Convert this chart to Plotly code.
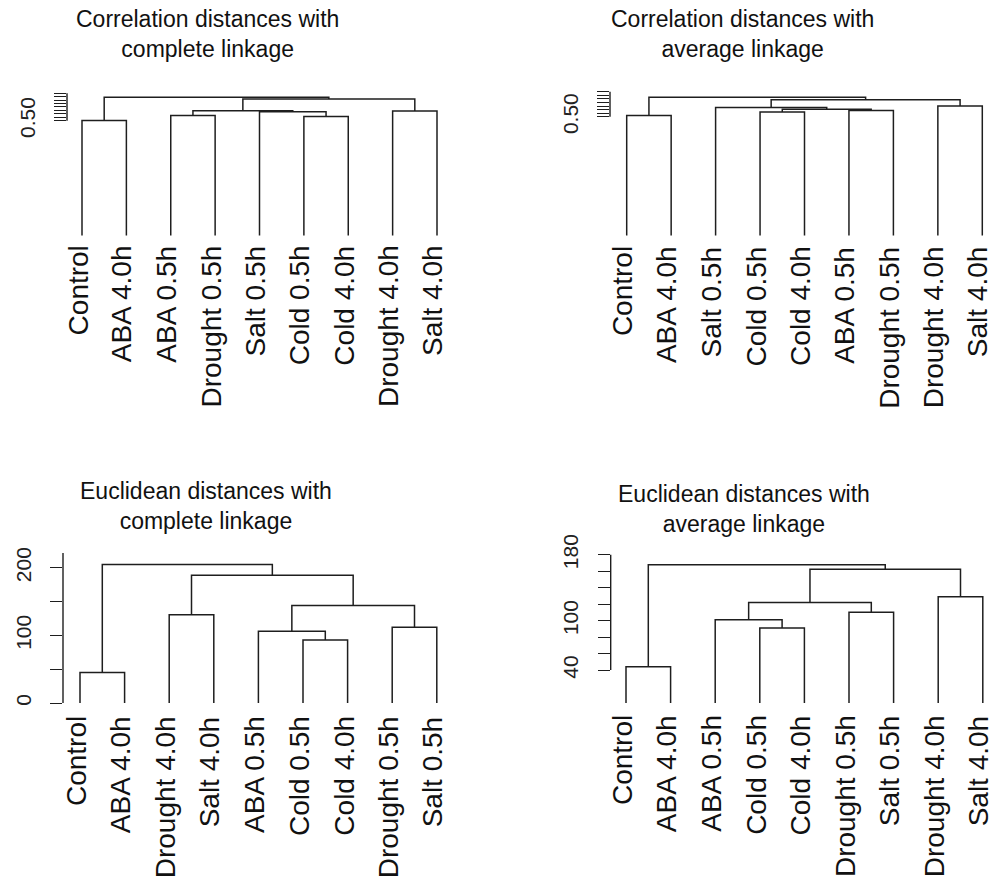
import plotly.graph_objects as go

W, H = 994, 883
FONT = "Liberation Sans, Arial, Helvetica, sans-serif"
INK = "#1e1e1e"

# ---------------- data (hclust-like merge lists) ----------------
# Correlation distances, complete linkage
tl_title = "Correlation distances with<br>complete linkage"
tl_order = ["Control", "ABA 4.0h", "ABA 0.5h", "Drought 0.5h", "Salt 0.5h",
            "Cold 0.5h", "Cold 4.0h", "Drought 4.0h", "Salt 4.0h"]
tl_left = ["Control", "Cold 0.5h", "ABA 0.5h", "Salt 0.5h", "Drought 4.0h", "m3", "m6", "m1"]
tl_right = ["ABA 4.0h", "Cold 4.0h", "Drought 0.5h", "m2", "Salt 4.0h", "m4", "m5", "m7"]
tl_height = [0.501, 0.519, 0.523, 0.539, 0.542, 0.544, 0.595, 0.602]
tl_ticks = [0.50, 0.515, 0.53, 0.545, 0.56, 0.575, 0.59, 0.605, 0.62]
tl_ticktext = ["0.50", "", "", "", "", "", "", "", ""]

# Correlation distances, average linkage
tr_title = "Correlation distances with<br>average linkage"
tr_order = ["Control", "ABA 4.0h", "Salt 0.5h", "Cold 0.5h", "Cold 4.0h",
            "ABA 0.5h", "Drought 0.5h", "Drought 4.0h", "Salt 4.0h"]
tr_left = ["Control", "Cold 0.5h", "ABA 0.5h", "m2", "Salt 0.5h", "Drought 4.0h", "m5", "m1"]
tr_right = ["ABA 4.0h", "Cold 4.0h", "Drought 0.5h", "m3", "m4", "Salt 4.0h", "m6", "m7"]
tr_height = [0.505, 0.520, 0.526, 0.532, 0.539, 0.545, 0.572, 0.582]
tr_ticks = [0.50, 0.515, 0.53, 0.545, 0.56, 0.575, 0.59, 0.605]
tr_ticktext = ["0.50", "", "", "", "", "", "", ""]

# Euclidean distances, complete linkage
bl_title = "Euclidean distances with<br>complete linkage"
bl_order = ["Control", "ABA 4.0h", "Drought 4.0h", "Salt 4.0h", "ABA 0.5h",
            "Cold 0.5h", "Cold 4.0h", "Drought 0.5h", "Salt 0.5h"]
bl_left = ["Control", "Cold 0.5h", "ABA 0.5h", "Drought 0.5h", "Drought 4.0h", "m3", "m5", "m1"]
bl_right = ["ABA 4.0h", "Cold 4.0h", "m2", "Salt 0.5h", "Salt 4.0h", "m4", "m6", "m7"]
bl_height = [45.3, 93.1, 106.3, 112.1, 130.6, 144.3, 189.0, 205.0]
bl_ticks = [0, 50, 100, 150, 200]
bl_ticktext = ["0", "", "100", "", "200"]

# Euclidean distances, average linkage
br_title = "Euclidean distances with<br>average linkage"
br_order = ["Control", "ABA 4.0h", "ABA 0.5h", "Cold 0.5h", "Cold 4.0h",
            "Drought 0.5h", "Salt 0.5h", "Drought 4.0h", "Salt 4.0h"]
br_left = ["Control", "Cold 0.5h", "ABA 0.5h", "Drought 0.5h", "m3", "Drought 4.0h", "m5", "m1"]
br_right = ["ABA 4.0h", "Cold 4.0h", "m2", "Salt 0.5h", "m4", "Salt 4.0h", "m6", "m7"]
br_height = [44.0, 91.2, 101.2, 110.4, 122.0, 129.2, 162.4, 168.0]
br_ticks = [40, 60, 80, 100, 120, 140, 160, 180]
br_ticktext = ["40", "", "", "100", "", "", "", "180"]


def dendrogram(order, left, right, heights):
    pos = {lab: i + 1 for i, lab in enumerate(order)}
    node = {lab: (pos[lab], 0.0) for lab in order}
    xs, ys = [], []
    for k, (a, b, h) in enumerate(zip(left, right, heights), start=1):
        xa, ya = node[a]
        xb, yb = node[b]
        xs += [xa, xa, xb, xb, None]
        ys += [ya, h, h, yb, None]
        node["m%d" % k] = ((xa + xb) / 2.0, h)
    return xs, ys


# ---------------- layout geometry (pixels) ----------------
panels = [
    dict(title=tl_title, order=tl_order, left=tl_left, right=tl_right, h=tl_height,
         ticks=tl_ticks, ticktext=tl_ticktext, axis_x=67, leaf0=82, sp=44.375, right_px=470,
         zero=228, ppu=232.0, top=78, title_x=207, title_y=24, lab_gap=9, axis_top=None),
    dict(title=tr_title, order=tr_order, left=tr_left, right=tr_right, h=tr_height,
         ticks=tr_ticks, ticktext=tr_ticktext, axis_x=610, leaf0=626.7, sp=44.45, right_px=994,
         zero=228, ppu=240.0, top=78, title_x=742, title_y=24, lab_gap=10, axis_top=None),
    dict(title=bl_title, order=bl_order, left=bl_left, right=bl_right, h=bl_height,
         ticks=bl_ticks, ticktext=bl_ticktext, axis_x=63, leaf0=80, sp=44.6, right_px=470,
         zero=701, ppu=0.684, top=540, title_x=206, title_y=502, lab_gap=12, axis_top=222),
    dict(title=br_title, order=br_order, left=br_left, right=br_right, h=br_height,
         ticks=br_ticks, ticktext=br_ticktext, axis_x=610.7, leaf0=626, sp=44.6, right_px=994,
         zero=701, ppu=0.833, top=540, title_x=744, title_y=505, lab_gap=11, axis_top=None),
]

fig = go.Figure()
annotations = []
shapes = []
layout_axes = {}

for i, p in enumerate(panels, start=1):
    sx = "" if i == 1 else str(i)
    xs, ys = dendrogram(p["order"], p["left"], p["right"], p["h"])
    fig.add_trace(go.Scatter(x=xs, y=ys, mode="lines", xaxis="x" + sx, yaxis="y" + sx,
                             line=dict(color=INK, width=1.5), hoverinfo="skip",
                             showlegend=False, cliponaxis=False))
    bottom_px = p["zero"] + 6
    x0 = 1 - (p["leaf0"] - p["axis_x"]) / p["sp"]
    x1 = 1 + (p["right_px"] - p["leaf0"]) / p["sp"]
    y0 = -(bottom_px - p["zero"]) / p["ppu"]
    y1 = (p["zero"] - p["top"]) / p["ppu"]
    layout_axes["xaxis" + sx] = dict(domain=[p["axis_x"] / W, p["right_px"] / W], range=[x0, x1],
                                     visible=False, anchor="y" + sx, fixedrange=True)
    layout_axes["yaxis" + sx] = dict(domain=[1 - bottom_px / H, 1 - p["top"] / H], range=[y0, y1],
                                     anchor="x" + sx, tickvals=p["ticks"], ticktext=p["ticktext"],
                                     ticks="outside", ticklen=12, tickwidth=1.3, tickcolor=INK,
                                     tickangle=-90, tickfont=dict(size=21, color="#222", family=FONT),
                                     ticklabelstandoff=11,
                                     showgrid=False, zeroline=False, showline=False, fixedrange=True)
    top_val = p["axis_top"] if p["axis_top"] is not None else p["ticks"][-1]
    shapes.append(dict(type="line", xref="x%s domain" % sx, yref="y" + sx,
                       x0=0, x1=0, y0=p["ticks"][0], y1=top_val,
                       line=dict(color=INK, width=1.4)))
    for j, lab in enumerate(p["order"], start=1):
        annotations.append(dict(x=j, y=0, xref="x" + sx, yref="y" + sx, text=lab,
                                textangle=-90, showarrow=False, xanchor="center", yanchor="top",
                                yshift=-p["lab_gap"], xshift=-4, borderpad=0,
                                font=dict(size=28, color="#111", family=FONT)))
    annotations.append(dict(x=p["title_x"] / W, y=1 - p["title_y"] / H, xref="paper", yref="paper",
                            text=p["title"], showarrow=False, xanchor="center", yanchor="middle",
                            font=dict(size=23, color="#111", family=FONT)))

fig.update_layout(width=W, height=H, margin=dict(l=0, r=0, t=0, b=0),
                  paper_bgcolor="white", plot_bgcolor="white",
                  annotations=annotations, shapes=shapes, **layout_axes)

fig.write_html("out.html")
